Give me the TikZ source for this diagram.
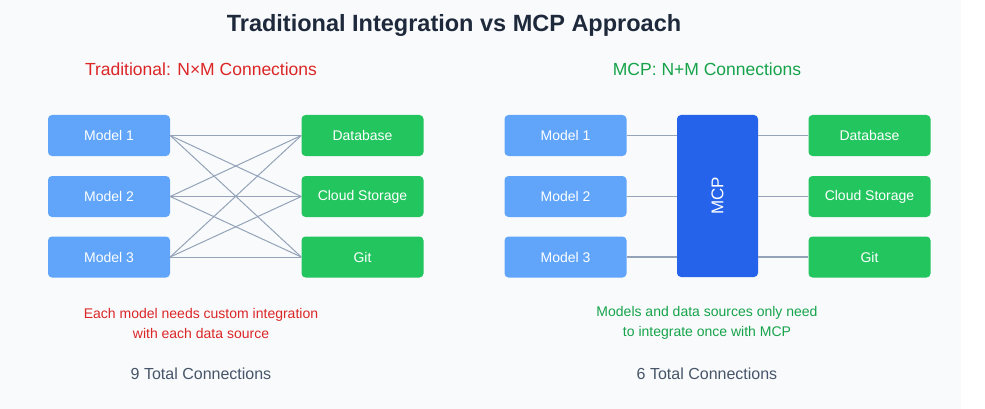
\documentclass[tikz,border=0pt]{standalone}
\usepackage{fontspec}
\setmainfont{Liberation Sans}
\definecolor{bgc}{HTML}{F8FAFC}
\definecolor{modelc}{HTML}{60A5FA}
\definecolor{datac}{HTML}{22C55E}
\definecolor{mcpc}{HTML}{2563EB}
\definecolor{linec}{HTML}{94A3B8}
\definecolor{titlec}{HTML}{1E293B}
\definecolor{redc}{HTML}{DC2626}
\definecolor{greenc}{HTML}{16A34A}
\definecolor{totalc}{HTML}{475569}
\tikzset{
  box/.style={rounded corners=4pt, minimum width=122pt, minimum height=41pt, inner sep=0pt, text=white, font=\fontsize{14}{16}\selectfont},
  modelbox/.style={box, fill=modelc},
  databox/.style={box, fill=datac},
  link/.style={linec, line width=1pt},
  hublink/.style={linec, line width=1.6pt},
  head/.style={font=\fontsize{17.5}{20}\selectfont},
  note/.style={align=center, font=\fontsize{14}{20}\selectfont},
  total/.style={text=totalc, font=\fontsize{16}{18}\selectfont}
}
\begin{document}
\begin{tikzpicture}[x=1pt, y=-1pt]
    \useasboundingbox (0,0) rectangle (985,409);
    \fill[bgc] (0,0) rectangle (961,409);

    \node[font=\bfseries\fontsize{23.5}{26}\selectfont, text=titlec] (title) at (454,25) {Traditional Integration vs MCP Approach};

    % traditional side
    \node[head, text=redc] (tradhead) at (201,69) {Traditional: N×M Connections};
    \node[modelbox] (m1) at (109,135.5) {Model 1};
    \node[modelbox] (m2) at (109,196.5) {Model 2};
    \node[modelbox] (m3) at (109,257) {Model 3};
    \node[databox] (d1) at (362.5,135.5) {Database};
    \node[databox] (d2) at (362.5,196.5) {Cloud Storage};
    \node[databox] (d3) at (362.5,257) {Git};
    \foreach \i in {1,2,3}
        \foreach \j in {1,2,3}
            \draw[link] (m\i.east) -- (d\j.west);
    \node[note, text=redc] (tradnote) at (201,323) {Each model needs custom integration\\with each data source};
    \node[total] (tradtotal) at (201,374) {9 Total Connections};

    % mcp side
    \node[head, text=greenc] (mcphead) at (707,69) {MCP: N+M Connections};
    \node[modelbox] (n1) at (565.5,135.5) {Model 1};
    \node[modelbox] (n2) at (565.5,196.5) {Model 2};
    \node[modelbox] (n3) at (565.5,257) {Model 3};
    \node[rounded corners=4pt, fill=mcpc, minimum width=81pt, minimum height=162pt, inner sep=0pt] (mcp) at (717.5,196) {};
    \node[rotate=90, text=white, font=\fontsize{17}{18}\selectfont] (mcplabel) at (mcp.center) {MCP};
    \node[databox] (e1) at (869.5,135.5) {Database};
    \node[databox] (e2) at (869.5,196.5) {Cloud Storage};
    \node[databox] (e3) at (869.5,257) {Git};
    \foreach \i in {1,2,3} {
        \draw[hublink] (n\i.east) -- (n\i.east -| mcp.west);
        \draw[hublink] (e\i.west -| mcp.east) -- (e\i.west);
    }
    \node[note, text=greenc] (mcpnote) at (707,323) {Models and data sources only need\\to integrate once with MCP};
    \node[total] (mcptotal) at (707,374) {6 Total Connections};
\end{tikzpicture}
\end{document}
